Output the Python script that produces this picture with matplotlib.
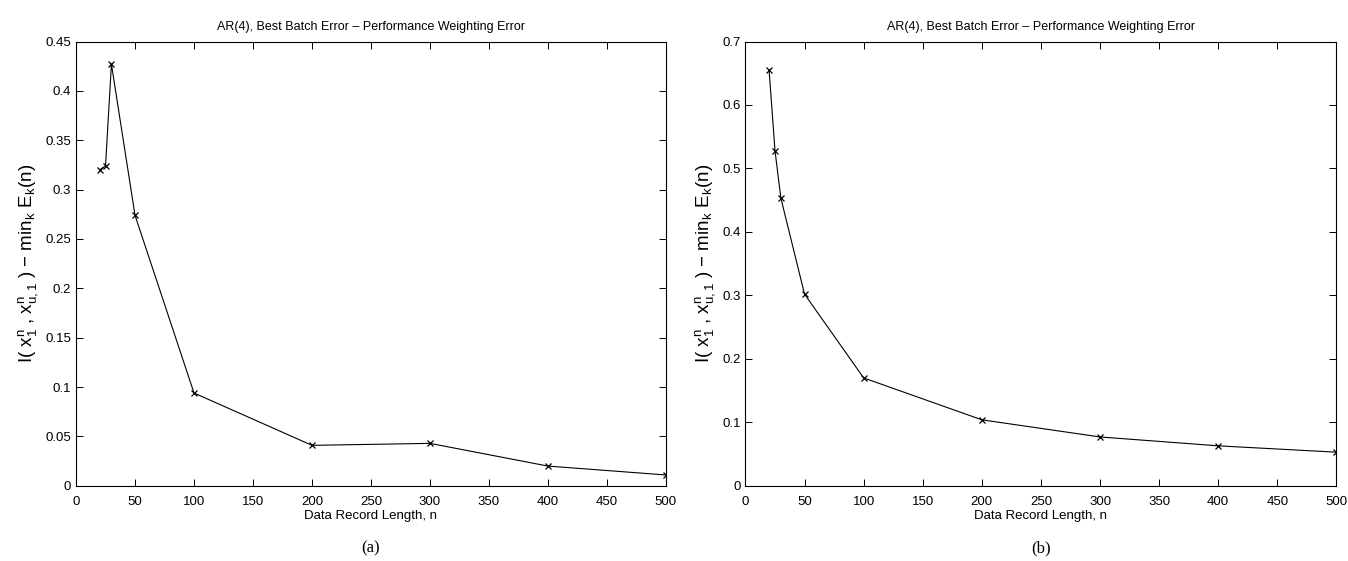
import matplotlib
matplotlib.use("Agg")
import matplotlib.pyplot as plt

# data record length n
n_values = [20, 25, 30, 50, 100, 200, 300, 400, 500]
# panel (a)
error_a = [0.320, 0.324, 0.427, 0.274, 0.094, 0.041, 0.043, 0.020, 0.011]
# panel (b)
error_b = [0.655, 0.528, 0.453, 0.302, 0.170, 0.104, 0.077, 0.063, 0.053]

title = "AR(4), Best Batch Error \u2013 Performance Weighting Error"
ylabel = r"I( x$_1^n$ , x$_{u,1}^n$ ) $-$ min$_k$ E$_k$(n)"
xlabel = "Data Record Length, n"

plt.rcParams['font.family'] = ['Liberation Sans', 'DejaVu Sans']
plt.rcParams['mathtext.fontset'] = 'custom'
plt.rcParams['mathtext.rm'] = 'Liberation Sans'
plt.rcParams['mathtext.it'] = 'Liberation Sans'

fig = plt.figure(figsize=(13.48, 5.61), dpi=100)
ax1 = fig.add_axes([0.0564, 0.134, 0.4376, 0.792])
ax2 = fig.add_axes([0.553, 0.134, 0.4384, 0.792])


def draw_panel(ax, y, ymax, yticks, ytick_labels, tag):
    ax.plot(n_values, y, color='black', lw=0.8, marker='x', ms=5, mew=0.9)
    ax.set_xlim(0, 500)
    ax.set_ylim(0, ymax)
    ax.set_xticks(range(0, 501, 50))
    ax.set_yticks(yticks)
    ax.set_yticklabels(ytick_labels)
    ax.tick_params(direction='in', top=True, right=True, labelsize=9.5,
                   length=5, width=0.7)
    ax.tick_params(axis='x', pad=7)
    for s in ax.spines.values():
        s.set_linewidth(0.8)
    ax.set_title(title, fontsize=9, pad=8)
    ax.set_xlabel(xlabel, fontsize=9.5, labelpad=2)
    ax.set_ylabel(ylabel, fontsize=13.5, labelpad=4)
    pos = ax.get_position()
    fig.text((pos.x0 + pos.x1) / 2, 0.008, tag, ha='center', va='bottom',
             fontsize=12, family='Liberation Serif')


draw_panel(ax1, error_a, 0.45,
           [0, 0.05, 0.1, 0.15, 0.2, 0.25, 0.3, 0.35, 0.4, 0.45],
           ['0', '0.05', '0.1', '0.15', '0.2', '0.25', '0.3', '0.35', '0.4', '0.45'],
           '(a)')
draw_panel(ax2, error_b, 0.7,
           [0, 0.1, 0.2, 0.3, 0.4, 0.5, 0.6, 0.7],
           ['0', '0.1', '0.2', '0.3', '0.4', '0.5', '0.6', '0.7'],
           '(b)')

fig.savefig("out.png", dpi=100)
